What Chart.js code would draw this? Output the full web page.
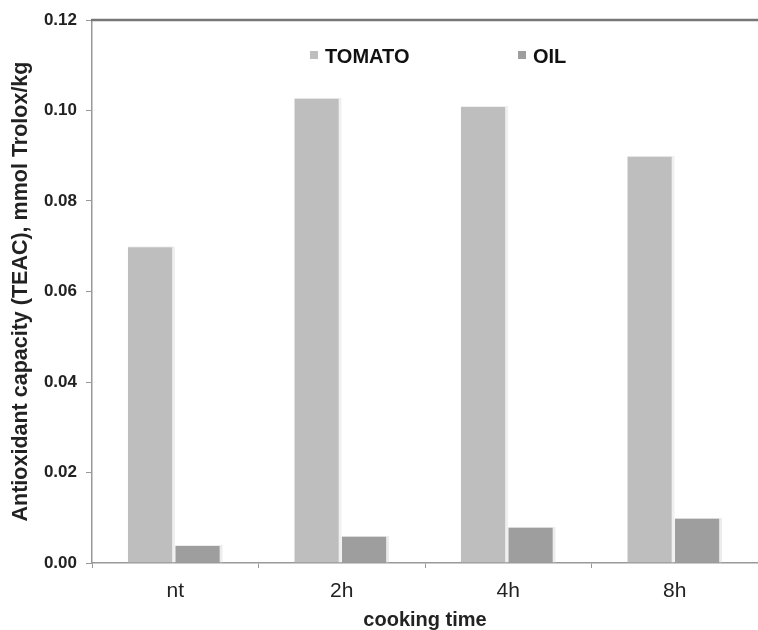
<!DOCTYPE html>
<html>
<head>
<meta charset="utf-8">
<script src="https://cdn.jsdelivr.net/npm/chart.js@4"></script>
<style>
  html, body { margin: 0; padding: 0; background: #fff; }
  #wrap { width: 758px; height: 630px; }
</style>
</head>
<body>
<div id="wrap"><canvas id="teac-chart"></canvas></div>
<script>
const categories = ["nt", "2h", "4h", "8h"];
const tomatoValues = [0.070, 0.1028, 0.101, 0.090];
const oilValues = [0.004, 0.006, 0.008, 0.010];
const yTicks = [0, 0.02, 0.04, 0.06, 0.08, 0.10, 0.12];

const FONT = "'Liberation Sans', Arial, sans-serif";

// frame line on top + legend inside the plot
const framePlugin = {
	id: "frame",
	afterDraw(chart) {
		const { ctx, chartArea } = chart;
		ctx.save();
		ctx.strokeStyle = "#777";
		ctx.lineWidth = 2.5;
		ctx.beginPath();
		ctx.moveTo(chartArea.left - 1, chartArea.top);
		ctx.lineTo(chart.width, chartArea.top);
		ctx.stroke();

		// legend
		const items = [
			{ x: 310, ds: chart.data.datasets[0] },
			{ x: 518, ds: chart.data.datasets[1] },
		];
		ctx.font = "bold 20px " + FONT;
		ctx.textBaseline = "middle";
		items.forEach((it) => {
			ctx.fillStyle = it.ds.backgroundColor;
			ctx.fillRect(it.x, 51, 8, 8);
			ctx.fillStyle = "#111";
			ctx.fillText(it.ds.label, it.x + 15, 57);
		});
		ctx.restore();
	},
};

const data = {
	labels: categories,
	datasets: [
		{
			label: "TOMATO",
			data: tomatoValues,
			backgroundColor: "#bebebe",
			borderColor: "#f0f0f0",
			borderWidth: { top: 1, left: 0, right: 3, bottom: 0 },
			borderSkipped: false,
		},
		{
			label: "OIL",
			data: oilValues,
			backgroundColor: "#9e9e9e",
			borderColor: "#ececec",
			borderWidth: { top: 1, left: 0, right: 3, bottom: 0 },
			borderSkipped: false,
		},
	],
};

const config = {
	type: "bar",
	data: data,
	options: {
		responsive: true,
		maintainAspectRatio: false,
		animation: false,
		layout: { padding: { top: 20, right: 0, left: 0, bottom: 0 } },
		categoryPercentage: 0.57,
		barPercentage: 1,
		plugins: {
			legend: { display: false },
			tooltip: { enabled: false },
		},
		scales: {
			x: {
				afterFit(scale) { scale.height = 67; },
				grid: {
					offset: true,
					drawOnChartArea: false,
					drawTicks: true,
					tickLength: 5,
					color: "#999",
				},
				border: { color: "#999", width: 1.5 },
				ticks: {
					color: "#222",
					padding: 11,
					font: { family: FONT, size: 21 },
				},
				title: {
					display: true,
					text: "cooking time",
					color: "#222",
					padding: { top: 0, bottom: 0 },
					font: { family: FONT, size: 20, weight: "bold", lineHeight: 1.0 },
				},
			},
			y: {
				min: 0,
				max: 0.12,
				afterFit(scale) { scale.width = 92; },
				afterBuildTicks(scale) {
					scale.ticks = yTicks.map((v) => ({ value: v }));
				},
				grid: {
					drawOnChartArea: false,
					drawTicks: true,
					tickLength: 6,
					color: "#999",
				},
				border: { color: "#999", width: 1.5 },
				ticks: {
					color: "#222",
					padding: 9,
					font: { family: FONT, size: 17, weight: "bold" },
					callback: (v) => Number(v).toFixed(2),
				},
				title: {
					display: true,
					text: "Antioxidant capacity (TEAC), mmol Trolox/kg",
					color: "#222",
					padding: { top: 9, bottom: 0 },
					font: { family: FONT, size: 21.5, weight: "bold", lineHeight: 1.1 },
				},
			},
		},
	},
	plugins: [framePlugin],
};

const chart = new Chart(document.getElementById("teac-chart").getContext("2d"), config);
</script>
</body>
</html>
